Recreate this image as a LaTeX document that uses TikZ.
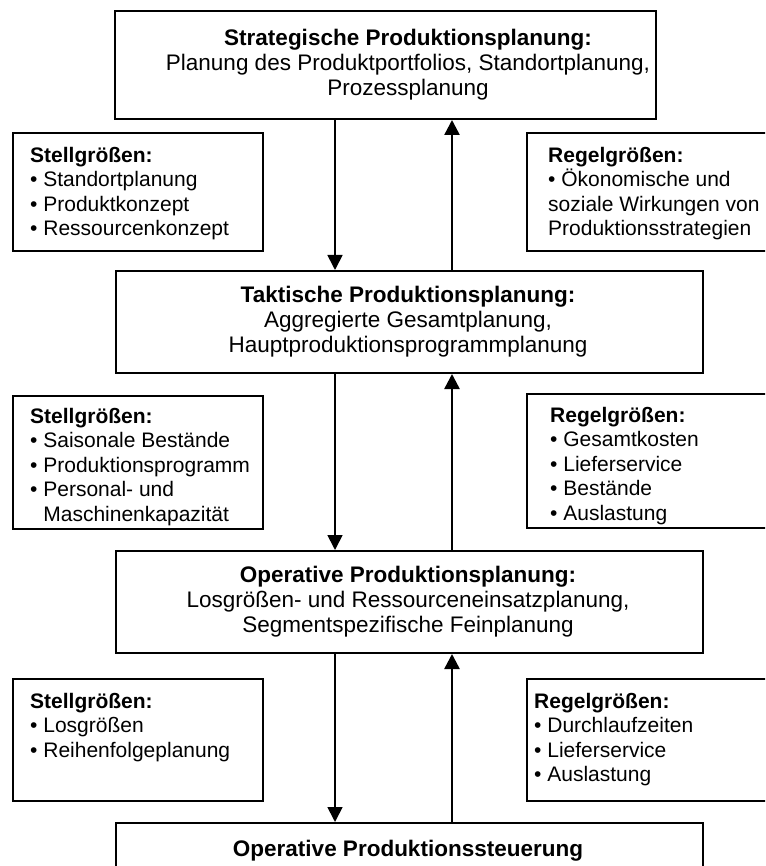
\documentclass[tikz,border=0pt]{standalone}
\usepackage{fontspec}
\setmainfont{Liberation Sans}
\usetikzlibrary{arrows.meta,calc}
\tikzset{
  txt/.style={font=\fontsize{21}{24.5}\selectfont},
  leveltxt/.style={font=\fontsize{22.5}{25}\selectfont, align=center, inner sep=0pt},
  frame/.style={draw, line width=2pt, anchor=north west, inner sep=0pt},
  sidetext/.style={txt, anchor=north west, align=left, inner sep=0pt},
  downflow/.style={line width=1.7pt, -{Triangle[length=15pt,width=15pt]}},
  upflow/.style={line width=2.5pt, -{Triangle[length=15pt,width=15pt]}}
}
\newcommand{\ind}{\phantom{• }}
\begin{document}
\begin{tikzpicture}[x=1pt,y=-1pt]
\useasboundingbox (0,0) rectangle (765,866);
\clip (0,0) rectangle (765,866);

% planning levels: frames
\node[frame, minimum width=541, minimum height=108] (strat) at (114,10) {};
\node[frame, minimum width=587, minimum height=102] (takt) at (115,270) {};
\node[frame, minimum width=587, minimum height=102] (oper) at (115,550) {};
\node[frame, minimum width=587, minimum height=56] (steu) at (115,822) {};

% planning levels: texts, all on one centre line
\coordinate (mid) at (408,0);
\node[leveltxt] (stratt) at (strat.center -| mid)
  {\textbf{Strategische Produktionsplanung:}\\Planung des Produktportfolios, Standortplanung,\\Prozessplanung};
\node[leveltxt] (taktt) at (takt.center -| mid)
  {\textbf{Taktische Produktionsplanung:}\\Aggregierte Gesamtplanung,\\Hauptproduktionsprogrammplanung};
\node[leveltxt] (opert) at (oper.center -| mid)
  {\textbf{Operative Produktionsplanung:}\\Losgrößen- und Ressourceneinsatzplanung,\\Segmentspezifische Feinplanung};
\node[leveltxt] (steut) at (steu.center -| mid)
  {\textbf{Operative Produktionssteuerung}};

% control variables (left) and controlled variables (right)
\node[frame, minimum width=250, minimum height=118] (stellA) at (12,132) {};
\node[sidetext] (stellAt) at ($(stellA.north west)+(18,15)$)
  {\textbf{Stellgrößen:}\\• Standortplanung\\• Produktkonzept\\• Ressourcenkonzept};
\node[frame, minimum width=260, minimum height=118] (regelA) at (526,132) {};
\node[sidetext] (regelAt) at ($(regelA.north west)+(22,15)$)
  {\textbf{Regelgrößen:}\\• Ökonomische und\\soziale Wirkungen von\\Produktionsstrategien};

\node[frame, minimum width=250, minimum height=133] (stellB) at (12,395) {};
\node[sidetext] (stellBt) at ($(stellB.north west)+(18,13)$)
  {\textbf{Stellgrößen:}\\• Saisonale Bestände\\• Produktionsprogramm\\• Personal- und\\\ind Maschinenkapazität};
\node[frame, minimum width=260, minimum height=134] (regelB) at (526,393) {};
\node[sidetext] (regelBt) at ($(regelB.north west)+(24,14)$)
  {\textbf{Regelgrößen:}\\• Gesamtkosten\\• Lieferservice\\• Bestände\\• Auslastung};

\node[frame, minimum width=250, minimum height=122] (stellC) at (12,678) {};
\node[sidetext] (stellCt) at ($(stellC.north west)+(18,15)$)
  {\textbf{Stellgrößen:}\\• Losgrößen\\• Reihenfolgeplanung};
\node[frame, minimum width=260, minimum height=122] (regelC) at (526,678) {};
\node[sidetext] (regelCt) at ($(regelC.north west)+(8,15)$)
  {\textbf{Regelgrößen:}\\• Durchlaufzeiten\\• Lieferservice\\• Auslastung};

% vertical flows between the levels
\coordinate (dn) at (335,0);
\coordinate (up) at (452,0);
\draw[downflow] (strat.south -| dn) -- (takt.north -| dn);
\draw[upflow]   (takt.north -| up) -- (strat.south -| up);
\draw[downflow] (takt.south -| dn) -- (oper.north -| dn);
\draw[upflow]   (oper.north -| up) -- (takt.south -| up);
\draw[downflow] (oper.south -| dn) -- (steu.north -| dn);
\draw[upflow]   (steu.north -| up) -- (oper.south -| up);
\end{tikzpicture}
\end{document}
